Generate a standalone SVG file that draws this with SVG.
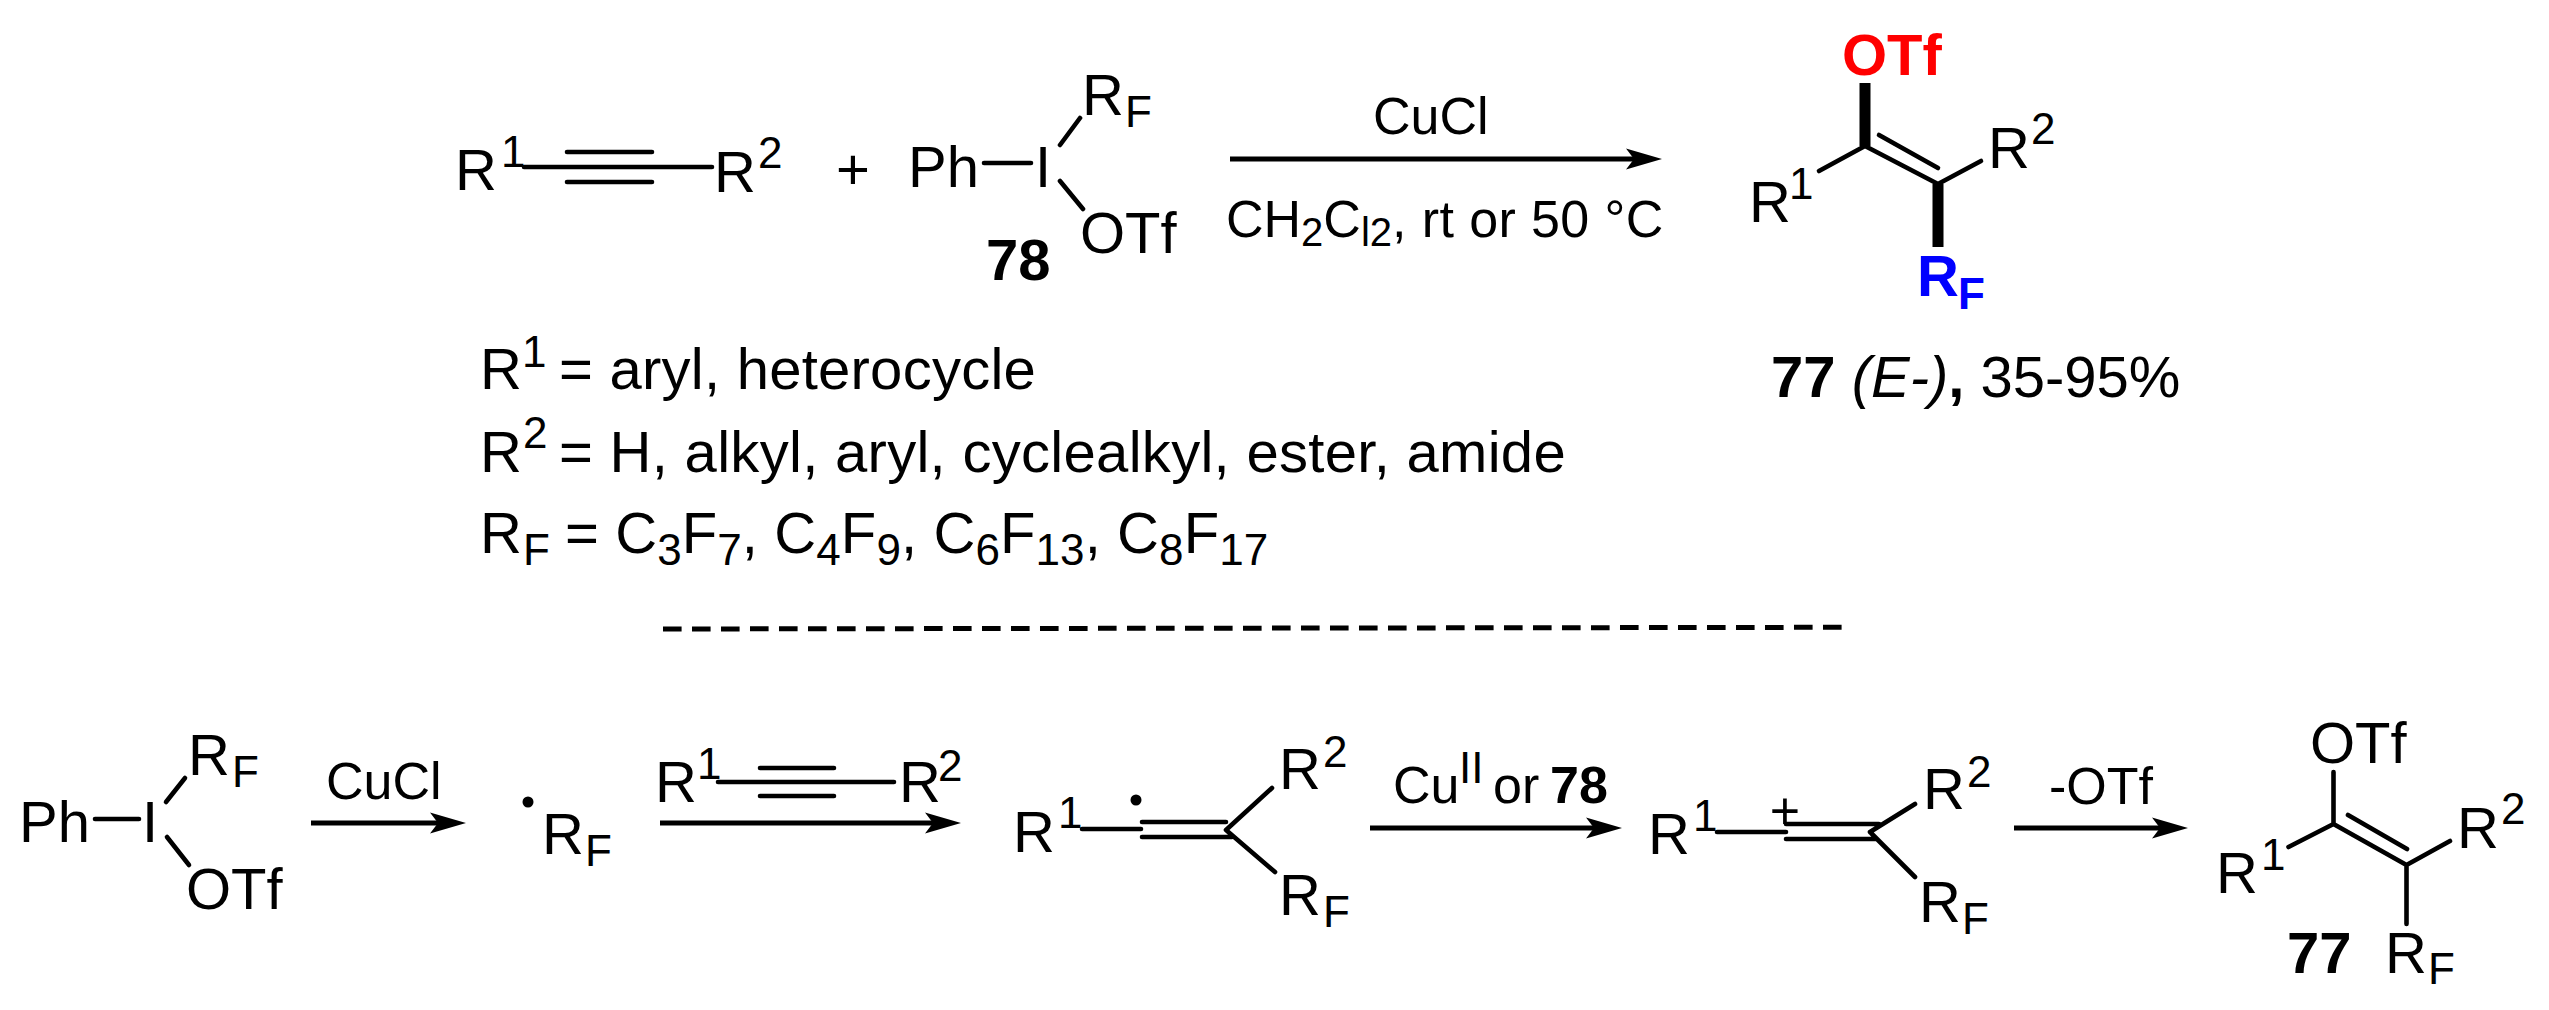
<svg xmlns="http://www.w3.org/2000/svg" width="2549" height="1010" viewBox="0 0 2549 1010">
<style>
text{font-family:"Liberation Sans",Arial,sans-serif;font-size:58px;fill:#000}
.c{font-size:52px}
.s{font-size:44px}
.t{font-size:40px}
.b{font-weight:bold}
.red{fill:#f00}
.blue{fill:#00f}
.l{stroke:#000;stroke-width:4.6;fill:none;stroke-linecap:round}
.a{stroke:#000;stroke-width:5;fill:none}
.h{stroke:#000;stroke-width:11;fill:none}
.d{stroke:#000;stroke-width:5;fill:none;stroke-dasharray:18.6 10.4}
</style>
<defs>
<path id="head" d="M-36,-10.5 L0,0 L-36,10.5 L-28,0Z" fill="#000"/>
</defs>
<rect width="2549" height="1010" fill="#fff"/>
<g id="connectors">
<path class="a" d="M1230,159H1640"/><use href="#head" x="1662" y="159"/>
<path class="a" d="M311,823H445"/><use href="#head" x="466" y="823"/>
<path class="a" d="M660,823H940"/><use href="#head" x="961" y="823"/>
<path class="a" d="M1370,828H1600"/><use href="#head" x="1622" y="828"/>
<path class="a" d="M2014,828H2165"/><use href="#head" x="2188" y="828"/>
<path class="d" d="M663,629L1842,627.3"/>
</g>
<g id="alkyne">
<text x="455" y="190">R<tspan class="s" x="501" y="167">1</tspan></text>
<path class="l" d="M524,167H712M567,152H652M567,182H652"/>
<text x="714" y="192">R<tspan class="s" x="758" y="168">2</tspan></text>
</g>
<g id="plus"><text x="853" y="189" text-anchor="middle">+</text></g>
<g id="reagent-78">
<text x="908" y="187">Ph</text>
<path class="l" d="M984,163H1031M1060,145L1080,118M1060,181L1083,209"/>
<text x="1043" y="187" text-anchor="middle">I</text>
<text x="1082" y="115">R<tspan class="s" x="1125" y="127">F</tspan></text>
<text x="1080" y="253">OTf</text>
<text class="b" x="986" y="280">78</text>
</g>
<g id="conditions">
<text class="c" x="1373" y="134">CuCl</text>
<text class="c" x="1226" y="237">CH<tspan class="t" y="246">2</tspan><tspan y="237">C</tspan><tspan class="t" y="246">l2</tspan><tspan y="237" letter-spacing="0.4">, rt or 50 °C</tspan></text>
</g>
<g id="product-77-top">
<text class="b red" x="1842" y="75">OTf</text>
<path class="h" d="M1865,83V146M1938,184V247"/>
<path class="l" d="M1865,146L1819,171M1865,146L1938,184M1879,135L1938,168M1938,184L1981,161"/>
<text x="1749" y="222">R<tspan class="s" x="1789" y="199">1</tspan></text>
<text x="1988" y="168">R<tspan class="s" x="2031" y="144">2</tspan></text>
<text class="b blue" x="1917" y="296">R<tspan class="s" x="1958" y="309">F</tspan></text>
<text x="1771" y="397"><tspan class="b">77</tspan> <tspan font-style="italic">(E-)</tspan><tspan class="b">,</tspan> 35-95%</text>
</g>
<g id="substituents">
<text x="480" y="389">R<tspan class="s" x="522" y="367">1</tspan><tspan x="559" y="389" letter-spacing="0.25">= aryl, heterocycle</tspan></text>
<text x="480" y="472">R<tspan class="s" x="523" y="448">2</tspan><tspan x="559" y="472" letter-spacing="0.3">= H, alkyl, aryl, cyclealkyl, ester, amide</tspan></text>
<text x="480" y="553" letter-spacing="0.1">R<tspan class="s" x="523" y="565">F</tspan><tspan x="565" y="553">= C</tspan><tspan class="s" y="565">3</tspan><tspan y="553">F</tspan><tspan class="s" y="565">7</tspan><tspan y="553">, C</tspan><tspan class="s" y="565">4</tspan><tspan y="553">F</tspan><tspan class="s" y="565">9</tspan><tspan y="553">, C</tspan><tspan class="s" y="565">6</tspan><tspan y="553">F</tspan><tspan class="s" y="565">13</tspan><tspan y="553">, C</tspan><tspan class="s" y="565">8</tspan><tspan y="553">F</tspan><tspan class="s" y="565">17</tspan></text>
</g>
<g id="mech-reagent">
<text x="19" y="842">Ph</text>
<path class="l" d="M95,819H139M166,802L185,778M167,837L189,865"/>
<text x="150" y="842" text-anchor="middle">I</text>
<text x="188" y="775">R<tspan class="s" x="232" y="787">F</tspan></text>
<text x="186" y="909">OTf</text>
</g>
<g id="mech-cucl"><text class="c" x="326" y="799">CuCl</text></g>
<g id="mech-radical">
<ellipse cx="528" cy="802" rx="5.5" ry="5.5" fill="#000"/>
<text x="542" y="854">R<tspan class="s" x="585" y="866">F</tspan></text>
</g>
<g id="mech-alkyne">
<text x="655" y="802">R<tspan class="s" x="697" y="779">1</tspan></text>
<path class="l" d="M718,782H894M760,768H834M760,796H834"/>
<text x="899" y="802">R<tspan class="s" x="938" y="781">2</tspan></text>
</g>
<g id="mech-vinyl-radical">
<text x="1013" y="852">R<tspan class="s" x="1058" y="828">1</tspan></text>
<ellipse cx="1136" cy="800" rx="5.5" ry="5.5" fill="#000"/>
<path class="l" d="M1082,829H1141M1142,822H1226M1142,837H1232M1226,830L1272,788M1226,830L1275,872"/>
<text x="1279" y="789">R<tspan class="s" x="1323" y="767">2</tspan></text>
<text x="1279" y="915">R<tspan class="s" x="1323" y="927">F</tspan></text>
</g>
<g id="mech-cu-label">
<text class="c" x="1393" y="803">Cu<tspan class="s" x="1459" y="783">II</tspan><tspan x="1493" y="803">or</tspan><tspan class="b" x="1550" y="803">78</tspan></text>
</g>
<g id="mech-cation">
<text x="1648" y="854">R<tspan class="s" x="1693" y="831">1</tspan></text>
<path class="l" d="M1717,832H1786M1786,824H1879M1786,839H1876M1870,832L1915,804M1870,832L1915,877"/>
<text class="c" x="1785" y="829" text-anchor="middle">+</text>
<text x="1923" y="809">R<tspan class="s" x="1967" y="787">2</tspan></text>
<text x="1919" y="922">R<tspan class="s" x="1962" y="934">F</tspan></text>
</g>
<g id="mech-otf-label"><text class="c" x="2049" y="804">-OTf</text></g>
<g id="mech-product-77">
<text x="2310" y="763">OTf</text>
<path class="l" d="M2333.5,772V824M2333.5,824L2288.5,847M2333.5,824L2406.5,865M2348,815L2407,849M2406.5,865L2450,841M2406.5,865V924"/>
<text x="2216" y="893">R<tspan class="s" x="2261" y="870">1</tspan></text>
<text x="2457" y="848">R<tspan class="s" x="2501" y="824">2</tspan></text>
<text x="2385" y="973">R<tspan class="s" x="2428" y="984">F</tspan></text>
<text class="b" x="2287" y="973">77</text>
</g>
</svg>
